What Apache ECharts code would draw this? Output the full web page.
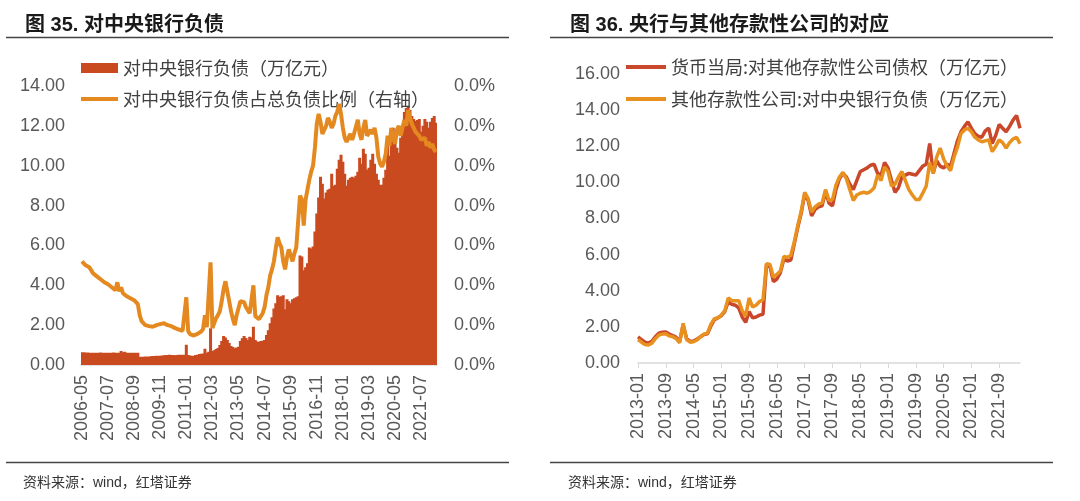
<!DOCTYPE html>
<html>
<head>
<meta charset="utf-8">
<script src="https://cdn.jsdelivr.net/npm/echarts@6/dist/echarts.min.js"></script>
<style>
html,body{margin:0;padding:0;background:#fff;}
#chart{width:1080px;height:501px;}
</style>
</head>
<body>
<div id="chart"></div>
<script>
// ---------- category helpers (month labels) ----------
function monthRange(y0, m0, y1, m1) {
  const out = [];
  let y = y0, m = m0;
  while (y < y1 || (y === y1 && m <= m1)) {
    out.push(y + '-' + String(m).padStart(2, '0'));
    m++; if (m > 12) { m = 1; y++; }
  }
  return out;
}
const leftCategories = monthRange(2006, 5, 2022, 3);   // 191 months
const rightCategories = monthRange(2013, 1, 2022, 3);  // 111 months

// ---------- Fig.35: liabilities to central bank (trillion yuan) ----------
const leftBars = [
  0.64,0.64,0.63,0.63,0.62,
  0.62,0.62,0.61,0.62,0.62,0.63,0.62,0.62,0.61,0.62,0.62,0.62,0.63,0.62,0.62,
  0.62,0.70,0.64,0.66,0.62,0.62,0.61,0.62,0.62,0.61,0.61,
  0.42,0.42,0.42,0.43,0.43,0.43,0.44,0.45,0.45,0.46,0.47,0.47,0.48,0.49,0.50,0.50,0.51,0.50,0.50,0.49,0.50,0.51,0.51,0.52,0.52,
  1.02,
  0.50,0.48,0.46,0.47,0.50,0.52,0.55,0.56,0.58,
  0.82,0.62,0.66,1.85,
  0.70,0.74,0.80,0.85,1.00,1.20,1.45,1.38,1.25,1.10,
  0.95,0.90,0.84,0.88,0.92,1.20,1.34,1.45,1.35,1.25,
  1.42,1.38,1.92,1.25,1.18,1.17,1.20,1.22,1.25,1.50,
  1.75,2.10,2.40,2.84,3.10,3.50,3.43,3.45,3.50,2.80,
  3.30,3.20,3.10,3.30,3.35,3.40,3.45,
  5.50,5.45,4.75,4.90,5.10,5.90,5.85,5.95,6.70,7.60,
  8.40,9.45,9.10,8.35,8.65,8.80,8.85,9.60,9.00,9.05,
  9.85,10.30,10.55,10.20,9.60,9.00,9.30,9.40,9.45,9.40,
  9.50,9.70,10.40,10.10,10.85,10.60,9.80,9.90,10.30,10.60,
  10.10,9.60,9.30,9.05,9.05,9.40,9.80,11.10,10.50,11.40,
  11.90,11.30,10.90,10.65,11.40,11.95,12.70,12.90,13.00,12.80,
  12.50,12.35,12.25,12.30,12.35,11.70,12.00,12.35,12.20,11.90,
  12.20,12.40,12.50,12.15
];
// share of total liabilities (right axis, in axis units; labels show 0.0% as in source)
const ratioValues = [
  5.20,5.10,5.00,4.95,4.90,4.75,4.60,4.50,4.45,4.35,
  4.30,4.25,4.15,4.10,4.05,3.95,3.90,3.80,3.75,4.15,
  3.70,3.90,3.60,3.50,3.45,3.40,3.35,3.30,3.25,3.20,
  3.05,2.50,2.20,2.10,2.00,1.98,1.95,1.95,1.92,1.98,
  2.00,2.05,2.05,2.15,2.10,2.00,2.00,1.95,1.95,1.90,
  1.85,1.80,1.78,1.75,1.72,1.70,3.40,1.70,1.55,1.45,
  1.48,1.52,1.56,1.62,1.68,1.80,2.50,1.90,2.00,5.15,
  1.85,2.10,2.35,2.50,2.70,3.20,3.80,4.20,3.70,3.20,
  2.70,2.30,2.00,2.50,2.85,3.20,3.30,3.15,2.90,2.75,
  2.60,2.70,4.00,2.45,2.35,2.30,2.40,2.60,2.90,3.50,
  3.90,4.50,4.80,5.20,5.85,6.40,6.10,5.90,5.20,4.80,
  5.40,5.80,5.50,5.20,5.60,5.90,6.00,8.50,8.30,7.00,
  8.30,8.80,9.30,9.70,10.00,10.90,12.10,12.60,12.20,11.60,
  11.70,12.00,12.40,12.20,11.90,12.10,12.50,12.70,13.10,12.60,
  11.90,11.40,11.20,11.30,11.60,11.30,11.60,11.95,12.30,11.60,
  11.30,11.90,12.30,11.50,11.60,11.80,11.60,11.90,11.40,10.45,
  10.10,9.95,10.20,10.60,11.50,11.00,11.90,11.40,11.10,11.80,
  12.00,11.50,11.90,12.30,12.00,12.80,12.40,12.10,11.90,11.70,
  11.60,11.50,11.30,11.20,11.40,11.00,11.20,10.90,11.10,10.80,10.70
];
const RATIO_SCALE = 2.5e-5;

// ---------- Fig.36 ----------
const pbocClaims = [
  1.45,1.30,1.15,1.10,1.20,1.45,1.65,1.70,1.72,1.60,
  1.52,1.42,1.20,2.10,1.35,1.20,1.22,1.32,1.45,1.58,
  1.62,2.05,2.40,2.50,2.62,2.85,3.40,3.25,3.20,3.05,
  2.55,2.25,2.85,2.50,2.55,2.65,2.70,5.45,5.35,4.50,
  4.65,5.00,5.75,5.65,5.70,6.60,7.50,8.30,9.35,9.00,
  8.15,8.50,8.65,8.70,9.50,8.85,8.70,9.60,10.20,10.50,
  10.30,9.90,9.60,10.10,10.60,10.70,10.80,10.95,11.00,10.50,
  10.40,11.10,10.80,10.10,9.45,9.70,10.30,10.40,10.50,10.45,
  10.40,10.65,10.90,11.00,12.15,10.50,11.20,10.90,10.80,11.00,
  10.90,11.60,12.30,12.80,13.10,13.35,13.00,12.70,12.55,12.50,
  12.85,13.00,12.15,12.60,13.20,13.00,12.80,13.10,13.45,13.70,13.00
];
const odcLiabilities = [
  1.30,1.15,1.02,1.00,1.10,1.35,1.55,1.60,1.62,1.50,
  1.45,1.35,1.12,2.20,1.30,1.15,1.18,1.28,1.45,1.60,
  1.65,2.15,2.45,2.50,2.65,2.90,3.60,3.45,3.45,3.45,
  2.90,2.60,3.60,3.10,3.20,3.40,3.50,5.50,5.45,4.75,
  4.90,5.10,5.90,5.85,5.95,6.70,7.60,8.40,9.45,9.10,
  8.35,8.65,8.80,8.85,9.60,9.00,9.05,9.85,10.30,10.55,
  10.20,9.60,9.00,9.30,9.40,9.45,9.40,9.50,9.70,10.40,
  10.10,10.85,10.60,9.80,9.90,10.30,10.60,10.10,9.60,9.30,
  9.05,9.05,9.40,9.80,11.10,10.50,11.40,11.90,11.30,10.90,
  10.65,11.40,11.95,12.70,12.90,13.00,12.80,12.50,12.35,12.25,
  12.30,12.35,11.70,12.00,12.35,12.20,11.90,12.20,12.40,12.50,12.15
];

const NUM_FONT = '"Liberation Sans", Arial, sans-serif';
const CJK_FONT = '"Noto Sans CJK SC", sans-serif';
const MIX_FONT = '"Liberation Sans", "Noto Sans CJK SC", sans-serif';
const AXIS_GREY = '#595959';
const LINE_GREY = '#D9D9D9';
const BAR_COLOR = '#CA4A1F';

const names = {
  bar: '对中央银行负债（万亿元）',
  ratio: '对中央银行负债占总负债比例（右轴）',
  pboc: '货币当局:对其他存款性公司债权（万亿元）',
  odc: '其他存款性公司:对中央银行负债（万亿元）'
};

const chart = echarts.init(document.getElementById('chart'), null, {renderer: 'canvas'});

function xAxisCfg(grid, data, interval, gap) {
  return {
    gridIndex: grid, type: 'category', data: data, boundaryGap: gap,
    axisLine: {lineStyle: {color: LINE_GREY, width: 1.5}},
    axisTick: {alignWithLabel: true, interval: interval, length: 5, lineStyle: {color: LINE_GREY}},
    axisLabel: {interval: interval, rotate: 90, margin: 10, fontSize: 18, color: AXIS_GREY, fontFamily: NUM_FONT}
  };
}
function yAxisCfg(grid, max, pos, margin, fmt) {
  return {
    gridIndex: grid, type: 'value', position: pos, min: 0, max: max, interval: 2,
    splitLine: {show: false}, axisLine: {show: false}, axisTick: {show: false},
    axisLabel: {margin: margin, fontSize: 18, color: AXIS_GREY, fontFamily: NUM_FONT, formatter: fmt}
  };
}
function legendCfg(name, left, top, w, h) {
  return {
    data: [{name: name, icon: 'rect'}], left: left, top: top, padding: 0,
    itemWidth: w, itemHeight: h, itemGap: 5, selectedMode: false,
    textStyle: {fontSize: 18, color: '#404040', fontFamily: CJK_FONT}
  };
}

chart.setOption({
  animation: false,
  backgroundColor: '#ffffff',
  title: [
    {text: '图 35. 对中央银行负债', left: 20, top: 10, textStyle: {fontSize: 20, fontWeight: 'bold', color: '#1a1a1a', fontFamily: MIX_FONT}},
    {text: '图 36. 央行与其他存款性公司的对应', left: 565, top: 10, textStyle: {fontSize: 20, fontWeight: 'bold', color: '#1a1a1a', fontFamily: MIX_FONT}},
    {text: '资料来源：wind，红塔证券', left: 18, top: 471, textStyle: {fontSize: 14, fontWeight: 'normal', color: '#333', fontFamily: MIX_FONT}},
    {text: '资料来源：wind，红塔证券', left: 563, top: 471, textStyle: {fontSize: 14, fontWeight: 'normal', color: '#333', fontFamily: MIX_FONT}}
  ],
  graphic: [
    {type: 'line', shape: {x1: 6, y1: 37.5, x2: 509, y2: 37.5}, style: {stroke: '#444', lineWidth: 1.3}},
    {type: 'line', shape: {x1: 550, y1: 37.5, x2: 1053, y2: 37.5}, style: {stroke: '#444', lineWidth: 1.3}},
    {type: 'line', shape: {x1: 6, y1: 462.5, x2: 509, y2: 462.5}, style: {stroke: '#444', lineWidth: 1.3}},
    {type: 'line', shape: {x1: 550, y1: 462.5, x2: 1053, y2: 462.5}, style: {stroke: '#444', lineWidth: 1.3}}
  ],
  legend: [
    legendCfg(names.bar, 81, 59, 37, 10),
    legendCfg(names.ratio, 81, 90, 37, 4),
    legendCfg(names.pboc, 626, 58, 40, 4),
    legendCfg(names.odc, 626, 90, 40, 4)
  ],
  grid: [
    {left: 81, top: 86, width: 356, height: 279},
    {left: 638, top: 74, width: 382, height: 289}
  ],
  xAxis: [
    xAxisCfg(0, leftCategories, 13, true),
    xAxisCfg(1, rightCategories, 7, false)
  ],
  yAxis: [
    yAxisCfg(0, 14, 'left', 16, v => v.toFixed(2)),
    yAxisCfg(0, 14, 'right', 17, v => (v * RATIO_SCALE * 100).toFixed(1) + '%'),
    yAxisCfg(1, 16, 'left', 18, v => v.toFixed(2))
  ],
  series: [
    {name: names.bar, type: 'bar', xAxisIndex: 0, yAxisIndex: 0, data: leftBars,
     large: true, largeThreshold: 50, barWidth: 3, itemStyle: {color: BAR_COLOR}},
    {name: names.ratio, type: 'line', xAxisIndex: 0, yAxisIndex: 1, data: ratioValues,
     symbol: 'none', showSymbol: false, lineStyle: {width: 4, color: '#E4891F'}, itemStyle: {color: '#E4891F'}, z: 5},
    {name: names.pboc, type: 'line', xAxisIndex: 1, yAxisIndex: 2, data: pbocClaims,
     symbol: 'none', showSymbol: false, lineStyle: {width: 3.5, color: '#C9472A'}, itemStyle: {color: '#C9472A'}},
    {name: names.odc, type: 'line', xAxisIndex: 1, yAxisIndex: 2, data: odcLiabilities,
     symbol: 'none', showSymbol: false, lineStyle: {width: 3.5, color: '#E8911F'}, itemStyle: {color: '#E8911F'}}
  ]
});
</script>
</body>
</html>
